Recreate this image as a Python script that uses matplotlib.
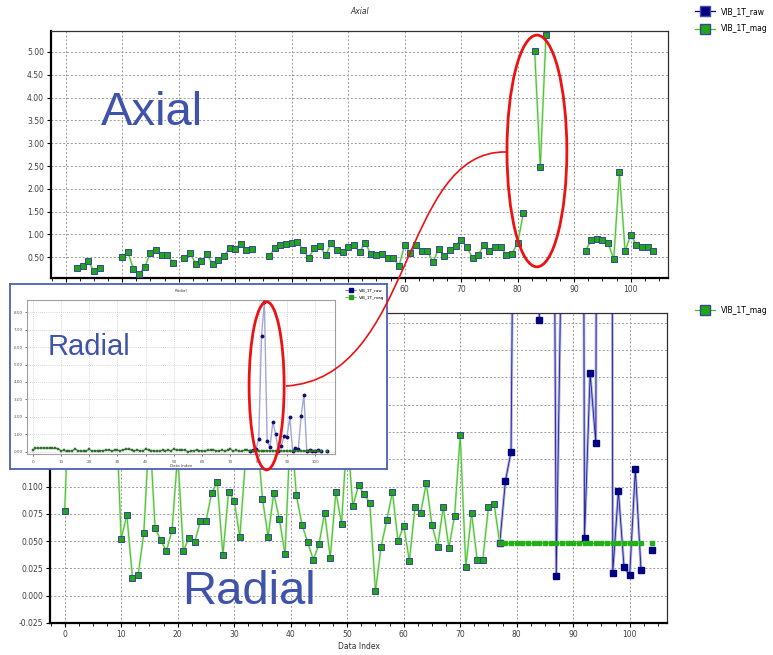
import numpy as np
import matplotlib
matplotlib.use("Agg")
import matplotlib.pyplot as plt
from matplotlib.patches import Ellipse, PathPatch
from matplotlib.path import Path
from matplotlib.lines import Line2D
from matplotlib.transforms import Affine2D

nan = np.nan

# data index 0..104
index = np.arange(105)

# Axial - VIB_1T_mag
axial_mag = [nan, nan, 0.27, 0.31, 0.42, 0.19, 0.27, nan, nan, nan,
             0.50, 0.62, 0.24, 0.13, 0.29, 0.60, 0.65, 0.55, 0.55, 0.38,
             nan, 0.49, 0.60, 0.36, 0.41, 0.57, 0.35, 0.45, 0.52, 0.70,
             0.68, 0.80, 0.65, 0.68, nan, nan, 0.52, 0.70, 0.76, 0.79,
             0.81, 0.84, 0.67, 0.49, 0.70, 0.75, 0.54, 0.81, 0.65, 0.62,
             0.72, 0.78, 0.61, 0.82, 0.57, 0.54, 0.57, 0.49, 0.49, 0.31,
             0.78, 0.59, 0.76, 0.64, 0.64, 0.40, 0.68, 0.52, 0.65, 0.75,
             0.88, 0.72, 0.49, 0.55, 0.76, 0.64, 0.73, 0.73, 0.54, 0.58,
             0.82, 1.46, nan, 5.03, 2.47, 5.37, nan, nan, nan, nan,
             nan, nan, 0.64, 0.87, 0.91, 0.87, 0.81, 0.46, 2.37, 0.64,
             0.98, 0.78, 0.72, 0.72, 0.64]

# Radial - VIB_1T_mag
radial_mag = [0.078, 0.21, 0.20, 0.21, 0.22, 0.20, 0.21, 0.19, 0.20, 0.18,
              0.052, 0.074, 0.016, 0.019, 0.057, 0.155, 0.062, 0.051, 0.041, 0.060,
              0.13, 0.041, 0.053, 0.049, 0.068, 0.068, 0.094, 0.104, 0.037, 0.095,
              0.087, 0.054, 0.125, 0.14, 0.15, 0.089, 0.054, 0.094, 0.070, 0.038,
              0.16, 0.092, 0.065, 0.049, 0.033, 0.047, 0.076, 0.035, 0.095, 0.066,
              0.15, 0.082, 0.101, 0.093, 0.085, 0.004, 0.045, 0.069, 0.095, 0.050,
              0.064, 0.032, 0.081, 0.076, 0.103, 0.065, 0.045, 0.081, 0.044, 0.073,
              0.147, 0.026, 0.076, 0.033, 0.033, 0.081, 0.084, 0.048, 0.048, 0.048,
              0.048, 0.048, 0.048, 0.048, 0.048, 0.048, 0.048, 0.048, 0.048, 0.048,
              0.048, 0.048, 0.048, 0.048, 0.048, 0.048, 0.048, 0.048, 0.048, 0.048,
              0.048, 0.048, 0.048, nan, 0.048]

# Radial - VIB_1T_raw (starts at index 77)
raw_index = np.arange(77, 105)
radial_raw = [0.048, 0.105, 0.132, 0.75, 6.65, 8.6, 0.6, 0.253, 1.7, 1.0,
              0.018, 0.35, 0.9, 0.85, 2.0, 0.053, 0.204, 0.140, 2.05, 3.25,
              0.021, 0.096, 0.026, 0.019, 0.116, 0.024, nan, 0.042]

W, H = 773, 655


def rect(l, t, r, b):
    return [l / W, 1 - b / H, (r - l) / W, (b - t) / H]


NAVY = '#000080'
GREEN_LIGHT = '#b4e8a8'
GREEN = '#48bc2c'
GREEN_FILL = '#1fa814'
EDGE = '#3a44a0'
GRID = dict(color='#9a9a9a', linestyle=(0, (2, 2)), linewidth=0.7)

fig = plt.figure(figsize=(W / 100, H / 100), dpi=100)
pix = Affine2D().scale(1 / W, -1 / H).translate(0, 1) + fig.transFigure


def style_axes(ax):
    ax.grid(True, **GRID)
    ax.set_axisbelow(True)
    ax.tick_params(labelsize=5.5, labelcolor='#404040', length=3, width=0.8, pad=2)
    ax.tick_params(axis='x', which='minor', length=2)
    ax.set_xticks(np.arange(0, 101, 10))
    ax.set_xticks(np.arange(-2.5, 106, 2.5), minor=True)
    ax.set_xlim(-2.6, 106.6)
    for s in ['top', 'right']:
        ax.spines[s].set_color('#303030')
        ax.spines[s].set_linewidth(0.9)
    for s in ['left', 'bottom']:
        ax.spines[s].set_color('black')
        ax.spines[s].set_linewidth(1.6)


# ---------------- Axial ----------------
ax1 = fig.add_axes(rect(51, 31, 668, 278))
style_axes(ax1)
# the labels left of 60 sit under the inset picture
ax1.set_xticklabels(['' if v < 60 else str(v) for v in range(0, 101, 10)])
ax1.plot(index, axial_mag, color=GREEN_LIGHT, lw=1.6, zorder=2)
ax1.plot(index, axial_mag, color=GREEN, lw=0.65, marker='s', ms=3.8,
         mfc=GREEN_FILL, mec=EDGE, mew=0.7, zorder=3)
ax1.set_ylim(0.046, 5.46)
ax1.set_yticks(np.arange(0.5, 5.01, 0.5))
ax1.set_yticklabels(['%.2f' % v for v in np.arange(0.5, 5.01, 0.5)])
ax1.set_title('Axial', fontsize=5.5, style='italic', color='#303030', pad=12)
ax1.add_patch(Ellipse((83.4, 2.83), 10.6, 5.08, fill=False, ec='#ee1111',
                      lw=2, zorder=10, clip_on=False))

h_raw = Line2D([], [], color=NAVY, lw=0.9, marker='s', ms=7, mfc=NAVY, mec='#4a4aa0')
h_mag = Line2D([], [], color=GREEN, lw=0.9, marker='s', ms=7, mfc=GREEN_FILL, mec=EDGE)
fig.legend([h_raw, h_mag], ['VIB_1T_raw', 'VIB_1T_mag'], loc='upper left',
           bbox_to_anchor=(691 / W, 1 - 3 / H), frameon=False, fontsize=5.5,
           handlelength=2.6, labelspacing=1.1, borderpad=0, handletextpad=0.8)

# ---------------- Radial (zoomed) ----------------
ax2 = fig.add_axes(rect(50, 313, 667, 623))
style_axes(ax2)
ax2.plot(raw_index, radial_raw, color='#b0b0e0', lw=2.0, zorder=2)
ax2.plot(raw_index, radial_raw, color='#1c1c96', lw=0.6, marker='s', ms=3.8,
         mfc=NAVY, mec=NAVY, zorder=3)
ax2.plot(index, radial_mag, color=GREEN_LIGHT, lw=1.6, zorder=4)
ax2.plot(index, radial_mag, color=GREEN, lw=0.65, zorder=5)
mag_arr = np.array(radial_mag)
big = index <= 77
ax2.plot(index[big], mag_arr[big], ls='none', marker='s', ms=3.8,
         mfc=GREEN_FILL, mec=EDGE, mew=0.7, zorder=6)
ax2.plot(index[~big], mag_arr[~big], ls='none', marker='s', ms=2.3,
         mfc='#22b014', mec='#22b014', zorder=6)
ax2.set_ylim(-0.025, 0.259)
yt = np.arange(-0.025, 0.2501, 0.025)
ax2.set_yticks(yt)
ax2.set_yticklabels(['%.3f' % v for v in yt])
ax2.set_xlabel('Data Index', fontsize=5.5, color='#303030', labelpad=2)
fig.legend([h_mag], ['VIB_1T_mag'], loc='upper left',
           bbox_to_anchor=(691 / W, 1 - 302 / H), frameon=False, fontsize=5.5,
           handlelength=2.6, borderpad=0, handletextpad=0.8)

# ---------------- Inset (full-scale Radial) ----------------
axf = fig.add_axes(rect(10, 284, 387, 469), zorder=5)
axf.set_xticks([])
axf.set_yticks([])
axf.set_facecolor('white')
for s in axf.spines.values():
    s.set_color('#4e5fb4')
    s.set_linewidth(1.3)

axi = fig.add_axes(rect(27, 300, 335, 454), zorder=6)
axi.plot(raw_index, radial_raw, color='#a4a4dc', lw=1.0, zorder=2)
axi.plot(raw_index, radial_raw, ls='none', marker='o', ms=1.8, color='#101070', zorder=3)
axi.plot(index, radial_mag, color='#2f7d2f', lw=0.7, marker='s', ms=1.6,
         mfc='#2c8a2c', mec='#1f4f1f', mew=0.3, zorder=4)
axi.set_xlim(-2.0, 107)
axi.set_ylim(-0.13, 8.7)
axi.set_xticks(np.arange(0, 101, 10))
axi.set_yticks(np.arange(0, 8.01, 1))
axi.set_yticklabels(['%.2f' % v for v in np.arange(0, 8.01, 1)])
axi.tick_params(labelsize=3.0, labelcolor='#555555', length=1.5, width=0.4, pad=1.5)
axi.tick_params(axis='x', pad=2.5)
axi.grid(True, color='#c8c8c8', linestyle=(0, (1.5, 1.5)), linewidth=0.5)
axi.set_axisbelow(True)
for s in axi.spines.values():
    s.set_color('#a0a0a0')
    s.set_linewidth(0.8)
axi.set_title('Radial', fontsize=3.0, color='#404040', pad=6)
axi.set_xlabel('Data Index', fontsize=3.0, color='#404040', labelpad=0.5)
axi.add_patch(Ellipse((82.8, 3.78), 12.4, 9.64, fill=False, ec='#ee1111',
                      lw=2, zorder=10, clip_on=False))
hi_raw = Line2D([], [], color='#4a4aa0', lw=0.5, marker='s', ms=3.5, mfc=NAVY, mec=NAVY)
hi_mag = Line2D([], [], color='#3cb521', lw=0.5, marker='s', ms=3.5, mfc='#2a9a22', mec='#2a9a22')
leg = axf.legend([hi_raw, hi_mag], ['VIB_1T_raw', 'VIB_1T_mag'], loc='upper left',
                 bbox_to_anchor=(343 / W, 1 - 286 / H), bbox_transform=fig.transFigure,
                 frameon=False, fontsize=3.0, handlelength=2.6, labelspacing=0.9,
                 borderpad=0, handletextpad=0.8)
for t in leg.get_texts():
    t.set_clip_box(axf.bbox)
    t.set_clip_on(True)

# big labels
fig.text(101 / W, 1 - 125 / H, 'Axial', fontsize=34, family='Liberation Sans',
         color='#3f53aa', ha='left', va='baseline')
fig.text(182 / W, 1 - 604 / H, 'Radial', fontsize=34, family='Liberation Sans',
         color='#3f53aa', ha='left', va='baseline')
fig.text(48 / W, 1 - 355 / H, 'Radial', fontsize=21, family='Liberation Sans',
         color='#3f53aa', ha='left', va='baseline', zorder=7)

# red connector between the two ellipses
verts = [(506, 152), (400, 150), (415, 378), (286, 386)]
codes = [Path.MOVETO, Path.CURVE4, Path.CURVE4, Path.CURVE4]
arc = PathPatch(Path(verts, codes), fill=False, ec='#ee1111', lw=1.2,
                transform=pix, zorder=20)
fig.add_artist(arc)

fig.savefig('out.png', dpi=100, facecolor='white')
